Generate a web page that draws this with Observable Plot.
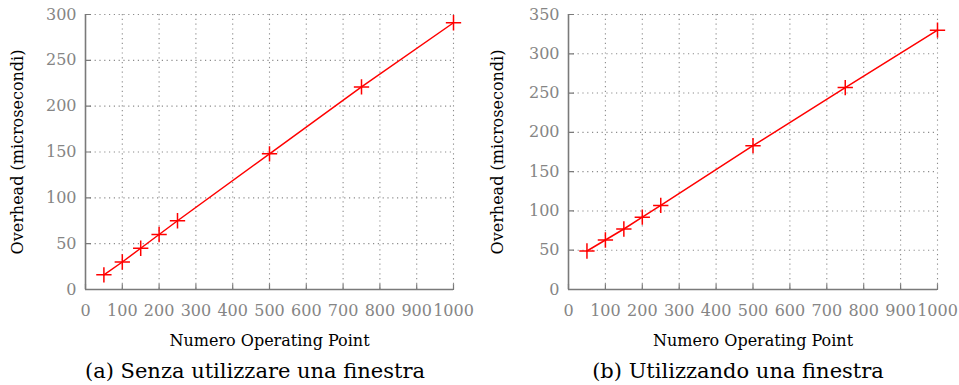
<!DOCTYPE html>
<html>
<head>
<meta charset="utf-8">
<script src="https://cdn.jsdelivr.net/npm/d3@7"></script>
<script src="https://cdn.jsdelivr.net/npm/@observablehq/plot@0.6"></script>
<style>
  html, body { margin: 0; padding: 0; background: #fff; }
  #wrap { display: flex; width: 959px; }
  .panel { position: relative; }
  .caption { font-family: "DejaVu Serif", serif; font-size: 21px; color: #000; line-height: 24px; white-space: nowrap; text-align: center; }
  svg { display: block; }
</style>
</head>
<body>
<div id="wrap">
  <div class="panel" id="pa" style="width:480px"></div>
  <div class="panel" id="pb" style="width:479px"></div>
</div>
<script>
const operatingPoints = [50, 100, 150, 200, 250, 500, 750, 1000];
const overheadA = [16, 30, 45, 60, 75, 148, 221, 291];
const overheadB = [49, 63, 77, 92, 107, 183, 257, 330];
const xTicks = [0, 100, 200, 300, 400, 500, 600, 700, 800, 900, 1000];
const yTicksA = [0, 50, 100, 150, 200, 250, 300];
const yTicksB = [0, 50, 100, 150, 200, 250, 300, 350];
const xLabel = "Numero Operating Point";
const yLabel = "Overhead (microsecondi)";
const captionA = "(a) Senza utilizzare una finestra";
const captionB = "(b) Utilizzando una finestra";

const axisGray = "#7a7a7a";
const tickTextGray = "#858585";
const gridGray = "#8c8c8c";
const font = "'DejaVu Serif', serif";

const tickShape = { draw(ctx, l) { ctx.moveTo(0, 0); ctx.lineTo(0, -l); } };

function makeChart({ values, yTicks, yMax, width, marginLeft, marginRight }) {
  const data = operatingPoints.map((x, i) => ({ x, y: values[i] }));
  return Plot.plot({
    width,
    height: 355,
    marginTop: 14,
    marginBottom: 66,
    marginLeft,
    marginRight,
    style: { fontFamily: font, fontSize: "16px", color: tickTextGray, background: "#fff", overflow: "visible" },
    x: { domain: [0, 1000] },
    y: { domain: [0, yMax] },
    marks: [
      Plot.gridX(xTicks.filter(d => d > 0), { stroke: gridGray, strokeOpacity: 1, strokeWidth: 1.1, strokeDasharray: "1.2,3.6" }),
      Plot.gridY(yTicks.filter(d => d > 0), { stroke: gridGray, strokeOpacity: 1, strokeWidth: 1.1, strokeDasharray: "1.2,3.6" }),
      Plot.vector(xTicks, { x: d => d, y: () => 0, length: 5, anchor: "start", rotate: 0, shape: tickShape, stroke: axisGray, strokeWidth: 1.2 }),
      Plot.vector(yTicks, { x: () => 0, y: d => d, length: 5, anchor: "start", rotate: 90, shape: tickShape, stroke: axisGray, strokeWidth: 1.2 }),
      Plot.ruleX([0], { stroke: axisGray, strokeWidth: 1.6 }),
      Plot.ruleY([0], { stroke: axisGray, strokeWidth: 1.6 }),
      Plot.axisX({ ticks: xTicks, tickSize: 0, tickPadding: 15, tickFormat: d => String(d), label: null, fontSize: 16 }),
      Plot.axisY({ ticks: yTicks, tickSize: 0, tickPadding: 9, tickFormat: d => String(d), label: null, fontSize: 16 }),
      Plot.text([xLabel], { frameAnchor: "bottom", dy: 56, text: d => d, fill: "#000", fontSize: 16, textAnchor: "middle" }),
      Plot.text([yLabel], { frameAnchor: "left", dx: -(marginLeft - 17), rotate: -90, text: d => d, fill: "#000", fontSize: 16, textAnchor: "middle" }),
      Plot.line(data, { x: "x", y: "y", stroke: "#ff0000", strokeWidth: 1.5 }),
      Plot.dot(data, { x: "x", y: "y", symbol: "plus", r: 5, stroke: "#ff0000", strokeWidth: 1.5 })
    ]
  });
}

const pa = document.getElementById("pa");
pa.appendChild(makeChart({ values: overheadA, yTicks: yTicksA, yMax: 300, width: 480, marginLeft: 85, marginRight: 27 }));
const ca = document.createElement("div");
ca.className = "caption";
ca.style.paddingLeft = "30px";
ca.style.marginTop = "4px";
ca.textContent = captionA;
pa.appendChild(ca);

const pb = document.getElementById("pb");
pb.appendChild(makeChart({ values: overheadB, yTicks: yTicksB, yMax: 350, width: 479, marginLeft: 88, marginRight: 22 }));
const cb = document.createElement("div");
cb.className = "caption";
cb.style.paddingLeft = "37px";
cb.style.marginTop = "4px";
cb.textContent = captionB;
pb.appendChild(cb);
</script>
</body>
</html>
